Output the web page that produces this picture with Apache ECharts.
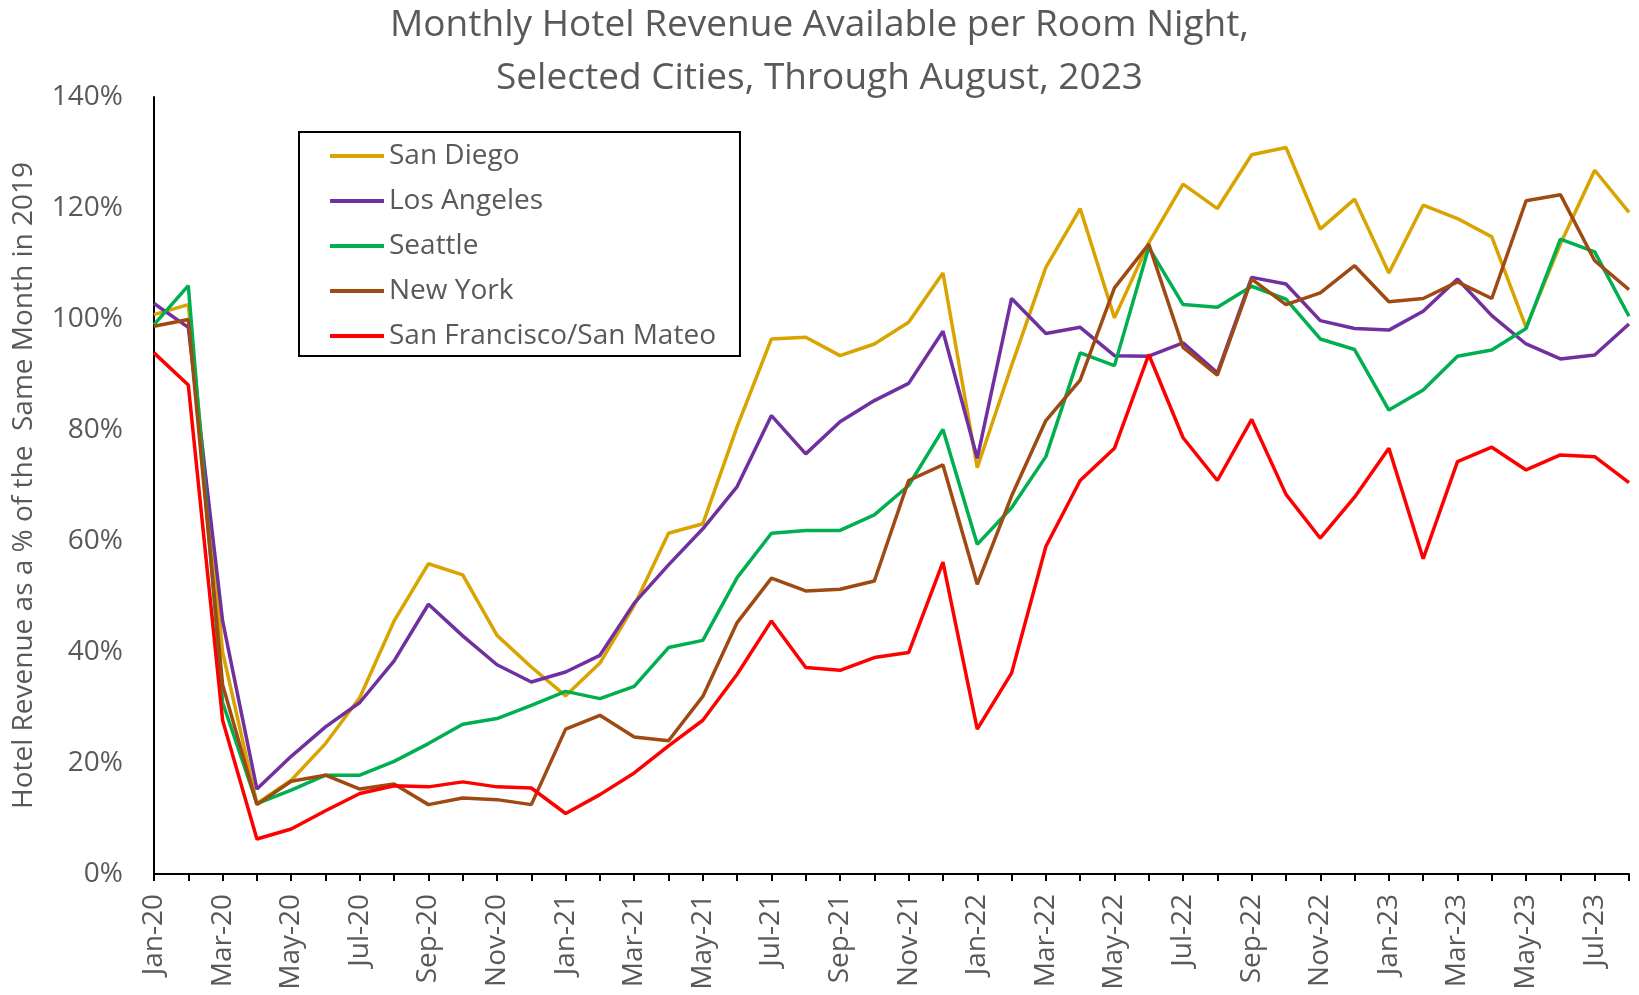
<!DOCTYPE html>
<html><head>
<meta charset="UTF-8">
<title>Monthly Hotel Revenue Available per Room Night</title>
<script src="https://cdn.jsdelivr.net/npm/echarts@6/dist/echarts.min.js"></script>
<style>
  html, body { margin: 0; padding: 0; background: #fff; }
  #chart { width: 1639px; height: 995px; }
</style>
</head>
<body>
<div id="chart"></div>
<script>
// months Jan-20 .. Aug-23
var months = ['Jan-20','Feb-20','Mar-20','Apr-20','May-20','Jun-20','Jul-20','Aug-20','Sep-20','Oct-20','Nov-20','Dec-20',
  'Jan-21','Feb-21','Mar-21','Apr-21','May-21','Jun-21','Jul-21','Aug-21','Sep-21','Oct-21','Nov-21','Dec-21',
  'Jan-22','Feb-22','Mar-22','Apr-22','May-22','Jun-22','Jul-22','Aug-22','Sep-22','Oct-22','Nov-22','Dec-22',
  'Jan-23','Feb-23','Mar-23','Apr-23','May-23','Jun-23','Jul-23','Aug-23'];

// % of same month in 2019
var sanDiego = [100.8,102.6,40.0,12.7,16.9,23.5,31.8,45.6,55.9,53.9,43.0,37.3,
  32.1,38.0,48.4,61.4,63.1,80.6,96.4,96.7,93.4,95.5,99.4,108.3,
  73.2,91.6,109.3,119.9,100.2,113.7,124.3,119.9,129.6,130.9,116.2,121.6,
  108.3,120.5,118.1,114.8,98.5,113.5,126.8,119.2];
var losAngeles = [102.8,98.5,45.6,15.3,21.2,26.5,30.9,38.4,48.6,42.9,37.7,34.6,
  36.4,39.4,48.8,55.7,62.2,69.8,82.6,75.7,81.5,85.3,88.4,97.8,
  74.9,103.7,97.4,98.5,93.4,93.3,95.7,90.3,107.5,106.3,99.7,98.3,
  98.0,101.4,107.2,100.6,95.5,92.8,93.5,99.1];
var seattle = [99.0,106.0,30.9,12.7,15.1,17.8,17.8,20.3,23.5,27.0,28.0,30.4,
  32.9,31.6,33.8,40.8,42.1,53.4,61.4,61.9,61.9,64.7,70.0,80.1,
  59.4,66.0,75.2,93.9,91.6,112.9,102.6,102.1,105.9,103.6,96.4,94.5,
  83.6,87.2,93.3,94.4,98.3,114.4,112.1,100.5];
var newYork = [98.7,99.9,34.1,12.5,16.7,17.8,15.3,16.2,12.5,13.7,13.4,12.5,
  26.1,28.6,24.7,24.0,32.0,45.3,53.3,51.0,51.3,52.8,70.9,73.7,
  52.2,68.1,81.7,89.0,105.6,113.5,94.9,89.9,107.2,102.6,104.7,109.6,
  103.1,103.7,106.7,103.7,121.3,122.4,110.5,105.3];
var sanFrancisco = [93.9,88.1,27.7,6.3,8.1,11.4,14.5,15.9,15.7,16.6,15.7,15.5,
  10.9,14.3,18.2,23.1,27.7,36.0,45.6,37.2,36.7,39.0,39.9,56.2,
  26.1,36.2,59.0,70.9,76.7,93.6,78.6,70.9,81.9,68.4,60.5,67.9,
  76.7,56.8,74.3,76.9,72.8,75.5,75.2,70.5];

var names = ['San Diego','Los Angeles','Seattle','New York','San Francisco/San Mateo'];
var colors = ['#D9A400','#7030A0','#00B050','#9E4A12','#FF0000'];
var values = [sanDiego, losAngeles, seattle, newYork, sanFrancisco];

var font = 'Open Sans';
var grey = '#595959';

var series = [];
for (var i = 0; i < names.length; i++) {
  series.push({
    name: names[i], type: 'line', data: values[i],
    showSymbol: false, symbol: 'none',
    lineStyle: { color: colors[i], width: 3.5 },
    itemStyle: { color: colors[i] }
  });
}

var chart = echarts.init(document.getElementById('chart'));
chart.setOption({
  animation: false,
  title: {
    text: 'Monthly Hotel Revenue Available per Room Night,\nSelected Cities, Through August, 2023',
    left: 'center', top: -6,
    textStyle: { fontFamily: font, fontSize: 37, fontWeight: 'normal', color: grey, lineHeight: 53 }
  },
  legend: {
    orient: 'vertical', left: 299, top: 132,
    padding: [9, 24, 5, 31],
    borderColor: '#000', borderWidth: 2,
    icon: 'rect', itemWidth: 54, itemHeight: 4, itemGap: 15,
    textStyle: { fontFamily: font, fontSize: 28, color: grey, lineHeight: 30 },
    data: names
  },
  grid: { left: 154, right: 10, top: 97, bottom: 121, containLabel: false },
  xAxis: {
    type: 'category', data: months, boundaryGap: false,
    axisLine: { lineStyle: { color: '#000', width: 2 } },
    axisTick: { show: true, interval: 0, length: 7, lineStyle: { color: '#000', width: 2 } },
    axisLabel: { interval: 1, rotate: 90, margin: 20, fontFamily: font, fontSize: 28, color: grey },
    splitLine: { show: false }
  },
  yAxis: {
    type: 'value', min: 0, max: 140, interval: 20,
    name: 'Hotel Revenue as a % of the  Same Month in 2019',
    nameLocation: 'middle', nameGap: 116, nameRotate: 90,
    nameTextStyle: { fontFamily: font, fontSize: 28, color: grey },
    axisLine: { show: true, lineStyle: { color: '#000', width: 2 } },
    axisTick: { show: false },
    axisLabel: { margin: 31, fontFamily: font, fontSize: 28, color: grey, formatter: '{value}%' },
    splitLine: { show: false }
  },
  series: series
});
</script>
</body></html>
